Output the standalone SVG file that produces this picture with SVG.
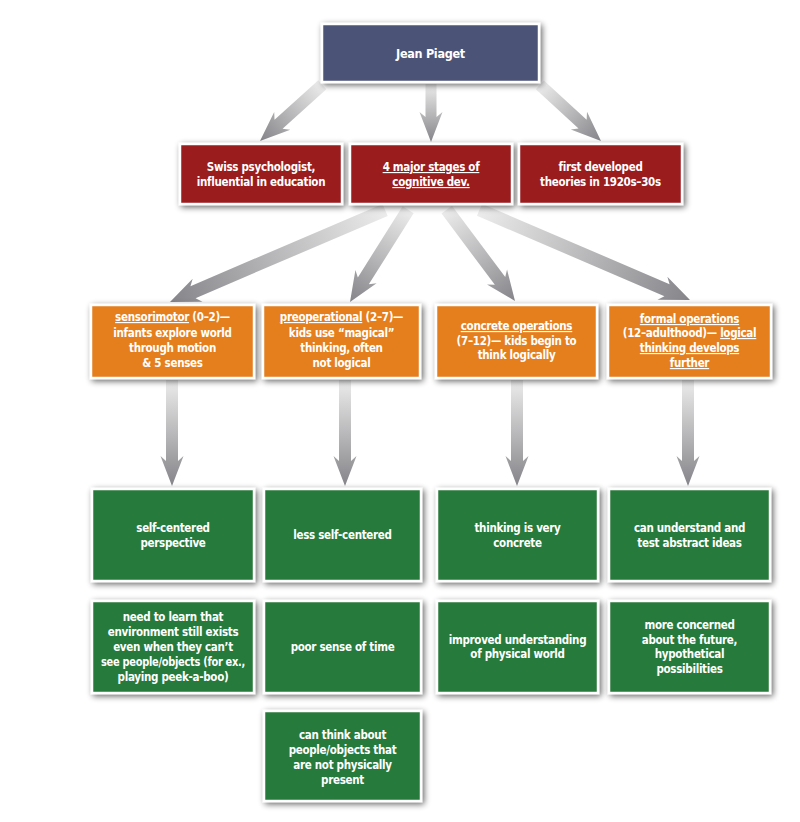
<svg xmlns="http://www.w3.org/2000/svg" width="800" height="822" viewBox="0 0 800 822">
<defs>
<filter id="sh" x="-20%" y="-30%" width="140%" height="160%">
<feGaussianBlur in="SourceAlpha" stdDeviation="3"/>
<feOffset dx="1.5" dy="2" result="b"/>
<feComponentTransfer><feFuncA type="linear" slope="0.6"/></feComponentTransfer>
<feMerge><feMergeNode/><feMergeNode in="SourceGraphic"/></feMerge>
</filter>
<linearGradient id="ag" x1="0" y1="0" x2="0" y2="1">
<stop offset="0" stop-color="#ececec"/>
<stop offset="0.55" stop-color="#b4b4b6"/>
<stop offset="1" stop-color="#85858a"/>
</linearGradient>
</defs>
<style>
.box{stroke:#fff;stroke-width:2.5;filter:url(#sh)}
.navy{fill:#4b5377}.red{fill:#9a1a1d}.orange{fill:#e57e1f}.green{fill:#287a3b}
text{font-family:"Liberation Sans Narrow","DejaVu Sans Condensed","Liberation Sans",sans-serif;font-weight:bold;fill:#fff;text-anchor:middle;font-size:11.5px;letter-spacing:-0.3px}
.big{font-size:12.5px}
.u{text-decoration:underline}
.arrow{fill:url(#ag)}
</style>
<rect width="800" height="822" fill="#fff"/>
<g id="connectors">
<polygon class="arrow" transform="translate(260,141) rotate(47.9)" points="-6,-84 6,-84 6,-25 12,-30 0,0 -12,-30 -6,-25"/>
<polygon class="arrow" transform="translate(431,142) rotate(0)" points="-5.5,-58 5.5,-58 5.5,-25 11.5,-30 0,0 -11.5,-30 -5.5,-25"/>
<polygon class="arrow" transform="translate(601,141) rotate(-47.45)" points="-6,-83 6,-83 6,-25 12,-30 0,0 -12,-30 -6,-25"/>
<polygon class="arrow" transform="translate(170,302) rotate(66.83)" points="-6.5,-234 6.5,-234 6.5,-25 12.5,-30 0,0 -12.5,-30 -6.5,-25"/>
<polygon class="arrow" transform="translate(350,302) rotate(32.23)" points="-6.5,-109 6.5,-109 6.5,-25 12.5,-30 0,0 -12.5,-30 -6.5,-25"/>
<polygon class="arrow" transform="translate(515,301) rotate(-36.77)" points="-6.5,-114 6.5,-114 6.5,-25 12.5,-30 0,0 -12.5,-30 -6.5,-25"/>
<polygon class="arrow" transform="translate(690,300) rotate(-66.8)" points="-6.5,-229 6.5,-229 6.5,-25 12.5,-30 0,0 -12.5,-30 -6.5,-25"/>
<polygon class="arrow" transform="translate(172,486)" points="-6,-106 6,-106 6,-25 11.5,-30 0,0 -11.5,-30 -6,-25"/>
<polygon class="arrow" transform="translate(345,486)" points="-6,-106 6,-106 6,-25 11.5,-30 0,0 -11.5,-30 -6,-25"/>
<polygon class="arrow" transform="translate(517,486)" points="-6,-106 6,-106 6,-25 11.5,-30 0,0 -11.5,-30 -6,-25"/>
<polygon class="arrow" transform="translate(688,486)" points="-6,-106 6,-106 6,-25 11.5,-30 0,0 -11.5,-30 -6,-25"/>
</g>
<g id="piaget"><rect class="box navy" x="322" y="24" width="217" height="58"/><text class="big" x="430.5" y="58">Jean Piaget</text></g>
<g id="swiss"><rect class="box red" x="180" y="144" width="162" height="60"/><text x="261" y="171">Swiss psychologist,</text><text x="261" y="186">influential in education</text></g>
<g id="stages"><rect class="box red" x="350" y="144" width="162" height="60"/><text x="431" y="171"><tspan class="u">4 major stages of</tspan></text><text x="431" y="186"><tspan class="u">cognitive dev.</tspan></text></g>
<g id="first"><rect class="box red" x="519" y="144" width="163" height="60"/><text x="600.5" y="171">first developed</text><text x="600.5" y="186">theories in 1920s–30s</text></g>
<g id="sensorimotor"><rect class="box orange" x="91" y="305" width="163" height="73"/>
<text x="172.5" y="321"><tspan class="u">sensorimotor</tspan> (0–2)—</text>
<text x="172.5" y="337">infants explore world</text>
<text x="172.5" y="352">through motion</text>
<text x="172.5" y="367">&amp; 5 senses</text></g>
<g id="preoperational"><rect class="box orange" x="263" y="305" width="157" height="73"/>
<text x="341.5" y="321"><tspan class="u">preoperational</tspan> (2–7)—</text>
<text x="341.5" y="337">kids use “magical”</text>
<text x="341.5" y="352">thinking, often</text>
<text x="341.5" y="367">not logical</text></g>
<g id="concrete"><rect class="box orange" x="436" y="305" width="161" height="73"/>
<text x="516.5" y="330"><tspan class="u">concrete operations</tspan></text>
<text x="516.5" y="345">(7–12)— kids begin to</text>
<text x="516.5" y="359">think logically</text></g>
<g id="formal"><rect class="box orange" x="608" y="305" width="163" height="73"/>
<text x="689.5" y="323"><tspan class="u">formal operations</tspan></text>
<text x="689.5" y="337">(12–adulthood)— <tspan class="u">logical</tspan></text>
<text x="689.5" y="352"><tspan class="u">thinking develops</tspan></text>
<text x="689.5" y="367"><tspan class="u">further</tspan></text></g>
<g id="g1"><rect class="box green" x="92" y="489" width="162" height="92"/><text x="173" y="532">self-centered</text><text x="173" y="547">perspective</text></g>
<g id="g2"><rect class="box green" x="264" y="489" width="157" height="92"/><text x="342.5" y="539">less self-centered</text></g>
<g id="g3"><rect class="box green" x="437" y="489" width="161" height="92"/><text x="517.5" y="532">thinking is very</text><text x="517.5" y="547">concrete</text></g>
<g id="g4"><rect class="box green" x="609" y="489" width="161" height="92"/><text x="689.5" y="532">can understand and</text><text x="689.5" y="547">test abstract ideas</text></g>
<g id="g5"><rect class="box green" x="92" y="601" width="162" height="92"/>
<text x="173" y="621">need to learn that</text>
<text x="173" y="636">environment still exists</text>
<text x="173" y="651">even when they can’t</text>
<text x="173" y="666" textLength="144" lengthAdjust="spacingAndGlyphs">see people/objects (for ex.,</text>
<text x="173" y="681">playing peek-a-boo)</text></g>
<g id="g6"><rect class="box green" x="264" y="601" width="157" height="92"/><text x="342.5" y="651">poor sense of time</text></g>
<g id="g7"><rect class="box green" x="437" y="601" width="161" height="92"/><text x="517.5" y="644">improved understanding</text><text x="517.5" y="658">of physical world</text></g>
<g id="g8"><rect class="box green" x="609" y="601" width="161" height="92"/>
<text x="689.5" y="629">more concerned</text>
<text x="689.5" y="644">about the future,</text>
<text x="689.5" y="658">hypothetical</text>
<text x="689.5" y="673">possibilities</text></g>
<g id="g9"><rect class="box green" x="264" y="711" width="157" height="90"/>
<text x="342.5" y="739">can think about</text>
<text x="342.5" y="754">people/objects that</text>
<text x="342.5" y="769">are not physically</text>
<text x="342.5" y="784">present</text></g>
</svg>
